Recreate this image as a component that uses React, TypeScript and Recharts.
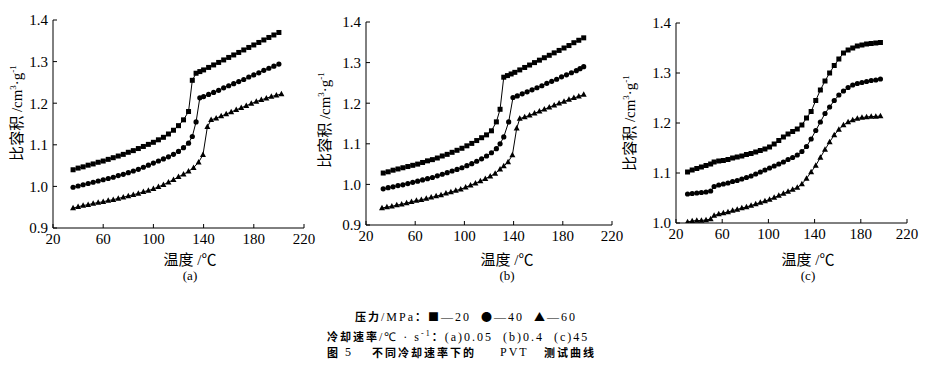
import React from "react";
import { LineChart, Line, XAxis, YAxis } from "recharts";

type Pt = [number, number];

// temperature (°C) / specific volume (cm3/g) pairs
const xTicks = [20, 60, 100, 140, 180, 220];
const yTicksAB = [0.9, 1.0, 1.1, 1.2, 1.3, 1.4];
const yTicksC = [1.0, 1.1, 1.2, 1.3, 1.4];

// (a) 0.05 ℃/s
const a20: Pt[] = [
  [36, 1.04], [40, 1.044], [44, 1.047], [48, 1.051], [52, 1.054], [56, 1.058], [60, 1.061], [64, 1.065],
  [68, 1.069], [72, 1.073], [76, 1.077], [80, 1.082], [84, 1.086], [88, 1.091], [92, 1.096], [96, 1.101],
  [100, 1.106], [104, 1.112], [108, 1.118], [112, 1.126], [116, 1.135], [120, 1.146], [124, 1.16], [128, 1.18],
  [131, 1.255], [134, 1.272], [137, 1.276], [140, 1.28], [144, 1.286], [148, 1.292], [152, 1.298], [156, 1.304],
  [160, 1.31], [164, 1.316], [168, 1.322], [172, 1.328], [176, 1.334], [180, 1.34], [184, 1.346], [188, 1.352],
  [192, 1.358], [196, 1.364], [200, 1.37],
];
const a40: Pt[] = [
  [36, 0.998], [40, 1.001], [44, 1.004], [48, 1.007], [52, 1.01], [56, 1.013], [60, 1.016], [64, 1.019],
  [68, 1.022], [72, 1.026], [76, 1.029], [80, 1.033], [84, 1.037], [88, 1.041], [92, 1.046], [96, 1.051],
  [100, 1.056], [104, 1.061], [108, 1.066], [112, 1.071], [116, 1.077], [120, 1.084], [124, 1.093], [128, 1.104],
  [131, 1.12], [134, 1.155], [137, 1.213], [140, 1.216], [144, 1.221], [148, 1.226], [152, 1.231], [156, 1.237],
  [160, 1.242], [164, 1.247], [168, 1.252], [172, 1.257], [176, 1.263], [180, 1.268], [184, 1.273], [188, 1.279],
  [192, 1.284], [196, 1.289], [200, 1.294],
];
const a60: Pt[] = [
  [36, 0.948], [40, 0.951], [44, 0.954], [48, 0.956], [52, 0.959], [56, 0.961], [60, 0.963], [64, 0.966],
  [68, 0.968], [72, 0.971], [76, 0.974], [80, 0.977], [84, 0.98], [88, 0.983], [92, 0.987], [96, 0.99],
  [100, 0.994], [104, 0.999], [108, 1.004], [112, 1.01], [116, 1.016], [120, 1.023], [124, 1.029], [128, 1.036],
  [132, 1.045], [136, 1.058], [139.5, 1.076], [143, 1.143], [146, 1.16], [150, 1.164], [154, 1.169], [158, 1.174],
  [162, 1.179], [166, 1.184], [170, 1.189], [174, 1.194], [178, 1.199], [182, 1.204], [186, 1.208], [190, 1.212],
  [194, 1.216], [198, 1.219], [202, 1.222],
];

// (b) 0.4 ℃/s
const b20: Pt[] = [
  [34, 1.028], [38, 1.031], [42, 1.035], [46, 1.038], [50, 1.041], [54, 1.044], [58, 1.047], [62, 1.05],
  [66, 1.054], [70, 1.058], [74, 1.061], [78, 1.065], [82, 1.07], [86, 1.074], [90, 1.079], [94, 1.084],
  [98, 1.089], [102, 1.095], [106, 1.101], [110, 1.108], [114, 1.115], [118, 1.122], [122, 1.132], [126, 1.154],
  [129, 1.185], [132, 1.264], [135, 1.268], [138, 1.272], [141, 1.276], [145, 1.282], [149, 1.288], [153, 1.294],
  [157, 1.3], [161, 1.306], [165, 1.312], [169, 1.318], [173, 1.324], [177, 1.33], [181, 1.336], [185, 1.342],
  [189, 1.349], [193, 1.355], [197, 1.361],
];
const b40: Pt[] = [
  [34, 0.989], [38, 0.992], [42, 0.994], [46, 0.997], [50, 0.999], [54, 1.002], [58, 1.005], [62, 1.008],
  [66, 1.011], [70, 1.014], [74, 1.017], [78, 1.021], [82, 1.025], [86, 1.029], [90, 1.033], [94, 1.037],
  [98, 1.041], [102, 1.046], [106, 1.051], [110, 1.057], [114, 1.063], [118, 1.07], [122, 1.078], [126, 1.088],
  [129, 1.1], [132, 1.117], [136, 1.154], [139.5, 1.214], [143, 1.218], [147, 1.223], [151, 1.228], [155, 1.233],
  [159, 1.238], [163, 1.243], [167, 1.249], [171, 1.254], [175, 1.259], [179, 1.265], [183, 1.27], [187, 1.275],
  [191, 1.28], [194, 1.285], [197, 1.29],
];
const b60: Pt[] = [
  [33, 0.942], [37, 0.944], [41, 0.946], [45, 0.949], [49, 0.951], [53, 0.954], [57, 0.957], [61, 0.96],
  [65, 0.962], [69, 0.965], [73, 0.968], [77, 0.971], [81, 0.974], [85, 0.978], [89, 0.981], [93, 0.985],
  [97, 0.988], [101, 0.993], [105, 0.998], [109, 1.003], [113, 1.008], [117, 1.014], [121, 1.02], [125, 1.027],
  [129, 1.037], [132, 1.045], [135.5, 1.055], [139, 1.072], [142.5, 1.138], [145, 1.162], [149, 1.166], [153, 1.17],
  [157, 1.175], [161, 1.18], [165, 1.185], [169, 1.19], [173, 1.195], [177, 1.2], [181, 1.204], [185, 1.209],
  [189, 1.213], [193, 1.217], [197, 1.221],
];

// (c) 45 ℃/s
const c20: Pt[] = [
  [30, 1.102], [34, 1.106], [38, 1.109], [42, 1.112], [46, 1.115], [50, 1.118], [53, 1.122], [57, 1.124],
  [61, 1.125], [65, 1.127], [69, 1.13], [73, 1.132], [77, 1.134], [81, 1.137], [85, 1.139], [89, 1.142],
  [93, 1.145], [97, 1.148], [101, 1.152], [105, 1.158], [109, 1.165], [113, 1.172], [117, 1.178], [121, 1.183],
  [125, 1.188], [129, 1.196], [133, 1.21], [137, 1.223], [141, 1.245], [145, 1.266], [149, 1.284], [153, 1.3],
  [157, 1.315], [161, 1.328], [165, 1.34], [169, 1.346], [173, 1.35], [177, 1.354], [181, 1.356], [185, 1.358],
  [189, 1.359], [193, 1.36], [197, 1.361],
];
const c40: Pt[] = [
  [30, 1.058], [34, 1.059], [38, 1.06], [42, 1.061], [46, 1.062], [50, 1.064], [53, 1.073], [57, 1.076],
  [61, 1.078], [65, 1.08], [69, 1.083], [73, 1.085], [77, 1.088], [81, 1.091], [85, 1.094], [89, 1.098],
  [93, 1.102], [97, 1.106], [101, 1.11], [105, 1.114], [109, 1.118], [113, 1.122], [117, 1.127], [121, 1.131],
  [125, 1.136], [129, 1.143], [133, 1.153], [137, 1.168], [141, 1.185], [145, 1.202], [149, 1.219], [153, 1.232],
  [157, 1.245], [161, 1.256], [165, 1.264], [169, 1.271], [173, 1.276], [177, 1.279], [181, 1.281], [185, 1.283],
  [189, 1.285], [193, 1.286], [197, 1.288],
];
const c60: Pt[] = [
  [30, 1.002], [34, 1.004], [38, 1.005], [42, 1.005], [46, 1.006], [50, 1.008], [53, 1.015], [57, 1.018],
  [61, 1.02], [65, 1.022], [69, 1.025], [73, 1.027], [77, 1.03], [81, 1.032], [85, 1.035], [89, 1.038],
  [93, 1.041], [97, 1.044], [101, 1.047], [105, 1.051], [109, 1.055], [113, 1.059], [117, 1.063], [121, 1.067],
  [125, 1.071], [129, 1.078], [133, 1.089], [137, 1.102], [141, 1.115], [145, 1.131], [149, 1.147], [153, 1.162],
  [157, 1.176], [161, 1.187], [165, 1.196], [169, 1.202], [173, 1.206], [177, 1.209], [181, 1.211], [185, 1.212],
  [189, 1.213], [193, 1.213], [197, 1.214],
];

const serif = '"Liberation Serif", "Times New Roman", serif';
const cjk = '"Liberation Serif", "Noto Sans CJK SC", serif';

const squareDot = (p: any) =>
  p.cx == null ? <g key={`s${p.index}`} /> : (
    <rect key={`s${p.index}`} x={p.cx - 2.5} y={p.cy - 2.5} width={5} height={5} fill="#000" />
  );
const circleDot = (p: any) =>
  p.cx == null ? <g key={`c${p.index}`} /> : <circle key={`c${p.index}`} cx={p.cx} cy={p.cy} r={2.6} fill="#000" />;
const triangleDot = (p: any) =>
  p.cx == null ? <g key={`t${p.index}`} /> : (
    <path
      key={`t${p.index}`}
      d={`M${p.cx},${p.cy - 3.3}L${p.cx - 3},${p.cy + 2.2}L${p.cx + 3},${p.cy + 2.2}Z`}
      fill="#000"
    />
  );

const dots = [squareDot, circleDot, triangleDot];

type PanelProps = {
  left: number;
  width: number;
  margin: { top: number; right: number; bottom: number; left: number };
  yDomain: [number, number];
  yTicks: number[];
  series: Pt[][];
};

const Panel = ({ left, width, margin, yDomain, yTicks, series }: PanelProps) => (
  <div style={{ position: "absolute", left, top: 0 }}>
    <LineChart width={width} height={262} margin={margin}>
      <XAxis
        type="number"
        dataKey="t"
        domain={[20, 220]}
        ticks={xTicks}
        height={30}
        axisLine={{ stroke: "#000" }}
        tickLine={{ stroke: "#000" }}
        tickSize={-4}
        tickMargin={9}
        tick={{ fill: "#000", fontSize: 15, fontFamily: serif }}
        allowDataOverflow
      />
      <YAxis
        type="number"
        domain={yDomain}
        ticks={yTicks}
        width={40}
        axisLine={{ stroke: "#000" }}
        tickLine={{ stroke: "#000" }}
        tickSize={-4}
        tickMargin={9}
        tickFormatter={(v: number) => v.toFixed(1)}
        tick={{ fill: "#000", fontSize: 15, fontFamily: serif }}
        allowDataOverflow
      />
      {series.map((s, i) => (
        <Line
          key={i}
          data={s.map(([t, v]) => ({ t, v }))}
          dataKey="v"
          type="linear"
          stroke="#000"
          strokeWidth={1}
          dot={dots[i]}
          activeDot={false}
          isAnimationActive={false}
        />
      ))}
    </LineChart>
  </div>
);

const YLabel = ({ x, y }: { x: number; y: number }) => (
  <div
    style={{
      position: "absolute",
      left: x,
      top: y,
      transform: "translate(-50%, -50%) rotate(-90deg)",
      whiteSpace: "nowrap",
      fontFamily: cjk,
      fontSize: 15,
      color: "#000",
    }}
  >
    比容积 /cm<sup style={{ fontSize: 9 }}>3</sup>·g<sup style={{ fontSize: 9 }}>-1</sup>
  </div>
);

const XLabel = ({ x, sub }: { x: number; sub: string }) => (
  <>
    <div
      style={{
        position: "absolute",
        left: x,
        top: 258,
        transform: "translate(-50%, -50%)",
        whiteSpace: "nowrap",
        fontFamily: cjk,
        fontSize: 15,
      }}
    >
      温度 /℃
    </div>
    <div
      style={{
        position: "absolute",
        left: x,
        top: 276,
        transform: "translate(-50%, -50%)",
        fontFamily: serif,
        fontSize: 13,
      }}
    >
      {sub}
    </div>
  </>
);

const capStyle: React.CSSProperties = {
  position: "absolute",
  whiteSpace: "pre",
  fontFamily: '"Noto Sans CJK SC", sans-serif',
  fontSize: 11,
  fontWeight: 700,
  letterSpacing: 2,
  lineHeight: "14px",
  color: "#000",
};
const numStyle: React.CSSProperties = { fontFamily: serif, fontWeight: 400, fontSize: 12 };

export default function App() {
  return (
    <div
      style={{
        position: "absolute",
        left: 0,
        top: 0,
        width: 926,
        height: 377,
        background: "#fff",
        overflow: "hidden",
      }}
    >
      <Panel
        left={0}
        width={322}
        margin={{ top: 20, right: 18, bottom: 4, left: 13 }}
        yDomain={[0.9, 1.4]}
        yTicks={yTicksAB}
        series={[a20, a40, a60]}
      />
      <Panel
        left={300}
        width={330}
        margin={{ top: 22, right: 18, bottom: 7, left: 26 }}
        yDomain={[0.9, 1.4]}
        yTicks={yTicksAB}
        series={[b20, b40, b60]}
      />
      <Panel
        left={610}
        width={316}
        margin={{ top: 23, right: 19, bottom: 9, left: 26 }}
        yDomain={[1.0, 1.4]}
        yTicks={yTicksC}
        series={[c20, c40, c60]}
      />
      <YLabel x={15} y={113} />
      <YLabel x={323} y={120} />
      <YLabel x={628} y={123} />
      <XLabel x={190} sub="(a)" />
      <XLabel x={507} sub="(b)" />
      <XLabel x={808} sub="(c)" />

      <div style={{ ...capStyle, left: 355, top: 309 }}>
        压力<span style={numStyle}>/MPa</span>：■<span style={numStyle}>—20  </span>●<span style={numStyle}>—40  </span>▲<span style={numStyle}>—60</span>
      </div>
      <div style={{ ...capStyle, left: 327, top: 327 }}>
        冷却速率<span style={numStyle}>/℃ · s</span>
        <sup style={{ ...numStyle, fontSize: 8 }}>-1</sup>：<span style={numStyle}>(a)0.05  (b)0.4  (c)45</span>
      </div>
      <div style={{ ...capStyle, left: 327, top: 345 }}>图</div>
      <div style={{ ...capStyle, ...numStyle, left: 345, top: 345, letterSpacing: 2 }}>5</div>
      <div style={{ ...capStyle, left: 372, top: 345 }}>不同冷却速率下的</div>
      <div style={{ ...capStyle, ...numStyle, left: 500, top: 345, letterSpacing: 2 }}>PVT</div>
      <div style={{ ...capStyle, left: 544, top: 345 }}>测试曲线</div>
    </div>
  );
}
